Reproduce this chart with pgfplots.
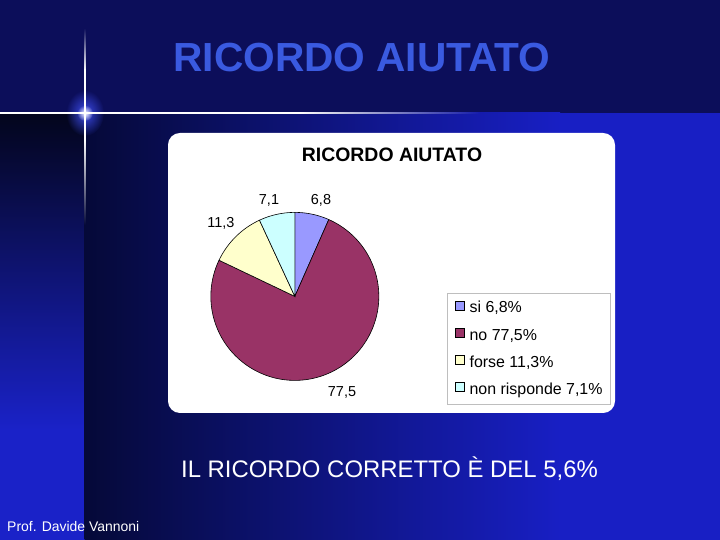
\documentclass[border=0pt]{standalone}
\usepackage{fontspec}
\setmainfont{Liberation Sans}
\usepackage{pgfplots}
\pgfplotsset{compat=1.18}
\usepgfplotslibrary{polar}
\usetikzlibrary{fadings}
\definecolor{topband}{RGB}{12,14,90}
\definecolor{stripTop}{RGB}{3,5,28}
\definecolor{stripBot}{RGB}{26,34,200}
\definecolor{mainL}{RGB}{5,9,56}
\definecolor{mainR}{RGB}{24,31,196}
\definecolor{glowblue}{RGB}{60,75,235}
\definecolor{titleblue}{RGB}{58,90,224}
\definecolor{cSi}{RGB}{153,153,255}
\definecolor{cNo}{RGB}{153,51,102}
\definecolor{cForse}{RGB}{255,255,204}
\definecolor{cNR}{RGB}{204,255,255}
\definecolor{legendgray}{RGB}{190,190,190}
\tikzfading[name=fadedown, top color=transparent!0, bottom color=transparent!100]
\tikzfading[name=fadeup, top color=transparent!100, bottom color=transparent!0]
\tikzfading[name=faderight, left color=transparent!0, right color=transparent!100]
\tikzfading[name=glowfade, inner color=transparent!0, outer color=transparent!100]
% data (percentages as shown in the chart)
\def\vSi{6.8}
\def\vNo{77.5}
\def\vForse{11.3}
\def\vNR{7.1}
\pgfmathsetmacro\tot{\vSi+\vNo+\vForse+\vNR}
\pgfmathsetmacro\aA{90}
\pgfmathsetmacro\aB{90-\vSi/\tot*360}
\pgfmathsetmacro\aC{\aB-\vNo/\tot*360}
\pgfmathsetmacro\aD{\aC-\vForse/\tot*360}
\pgfmathsetmacro\aE{-270}
\begin{document}
\begin{tikzpicture}[x=1bp,y=1bp]
\useasboundingbox (0,0) rectangle (720,540);
% background
\fill[topband] (0,426) rectangle (720,540);
\shade[top color=stripTop, bottom color=stripBot] (0,110) rectangle (84.6,427);
\fill[stripBot] (0,0) rectangle (84.6,110.5);
\shade[left color=mainL, right color=mainR] (84.5,0) rectangle (560,427);
\fill[mainR] (559.5,0) rectangle (720,427);
% decorative lines and glow
\fill[glowblue, path fading=glowfade] (85,427) ellipse (19 and 23);
\fill[white] (0,426) rectangle (300,428);
\fill[white, path fading=faderight] (299.5,426) rectangle (480,428);
\fill[white, path fading=fadeup] (84,470) rectangle (86,512);
\fill[white] (84,400) rectangle (86,470.5);
\fill[white, path fading=fadedown] (84,315) rectangle (86,400.5);
\fill[white, path fading=glowfade] (85,427) circle (8);
% slide title
\node[anchor=base, text=titleblue, font=\fontsize{40.8}{44}\selectfont\bfseries, inner sep=0pt] at (362,468) {RICORDO AIUTATO};
% chart area
\fill[white, rounded corners=12] (168,127) rectangle (615,407);
\node[anchor=base, font=\fontsize{19.5}{22}\selectfont\bfseries, inner sep=0pt] at (392,378) {RICORDO AIUTATO};
\begin{polaraxis}[
  at={(351,290)}, anchor=center,
  scale only axis, width=168bp, height=168bp,
  hide axis, clip=false,
  xmin=0, xmax=360, ymin=0, ymax=1,
  legend image code/.code={\draw[#1, draw=black, line width=0.4pt] (0bp,-1bp) rectangle (9bp,8bp);},
  legend style={at={(1.405,0.518)}, anchor=north west, draw=legendgray, line width=0.7pt,
    font=\fontsize{16}{18}\selectfont, inner xsep=8bp, inner ysep=7bp, row sep=12bp,
    nodes={inner sep=0pt, text height=11bp, text depth=3bp}, legend cell align=left,
    /tikz/every odd column/.append style={column sep=5bp}},
]
\addplot[fill=cSi, draw=black, line width=0.6pt, domain=\aB:\aA, samples=40] {1} -- (axis cs:0,0) -- cycle;
\addlegendentry{si 6,8\%}
\addplot[fill=cNo, draw=black, line width=0.6pt, domain=\aC:\aB, samples=200] {1} -- (axis cs:0,0) -- cycle;
\addlegendentry{no 77,5\%}
\addplot[fill=cForse, draw=black, line width=0.6pt, domain=\aD:\aC, samples=40] {1} -- (axis cs:0,0) -- cycle;
\addlegendentry{forse 11,3\%}
\addplot[fill=cNR, draw=black, line width=0.6pt, domain=\aE:\aD, samples=40] {1} -- (axis cs:0,0) -- cycle;
\addlegendentry{non risponde 7,1\%}
\end{polaraxis}
% data labels
\begin{scope}[every node/.style={anchor=base, inner sep=0pt, font=\fontsize{14.5}{16}\selectfont}]
\node at (321,335) {6,8};
\node at (269,335) {7,1};
\node at (221,312) {11,3};
\node at (342,143) {77,5};
\end{scope}
% footer texts
\node[anchor=base, text=white, font=\fontsize{24}{27}\selectfont, inner sep=0pt] at (389.5,62) {IL RICORDO CORRETTO È DEL 5,6\%};
\node[anchor=base west, text=white, font=\fontsize{14}{16}\selectfont, inner sep=0pt] at (7,8) {Prof. Davide Vannoni};
\end{tikzpicture}
\end{document}
